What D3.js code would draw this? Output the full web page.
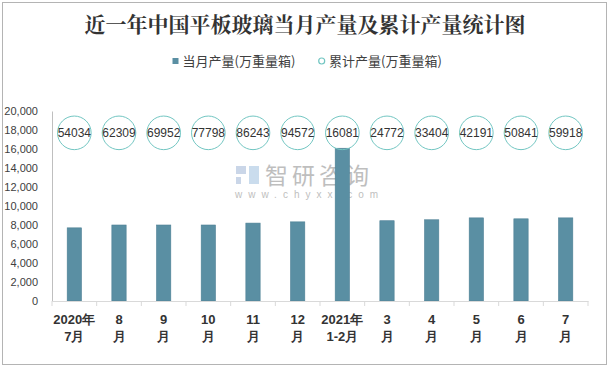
<!DOCTYPE html>
<html><head><meta charset="utf-8">
<script src="https://cdn.jsdelivr.net/npm/d3@7"></script>
<style>body{margin:0;background:#fff;}svg{display:block;font-family:"Liberation Sans",Arial,sans-serif;}</style>
</head><body><svg id="c" width="611" height="368"></svg>
<script>
const categoryLine1 = ["2020年","8","9","10","11","12","2021年","3","4","5","6","7"];
const categoryLine2 = ["7月","月","月","月","月","月","1-2月","月","月","月","月","月"];
const monthly = [7700,8000,8000,8000,8200,8330,16081,8450,8550,8750,8650,8750];
const cumulative = [54034,62309,69952,77798,86243,94572,16081,24772,33404,42191,50841,59918];
const markerLevel = 17700;
const yTicks = [0,2000,4000,6000,8000,10000,12000,14000,16000,18000,20000];
const title = "近一年中国平板玻璃当月产量及累计产量统计图";
const legendNames = ["当月产量(万重量箱)","累计产量(万重量箱)"];

const svg = d3.select("#c");
svg.append("rect").attr("x",2.5).attr("y",2.5).attr("width",604).attr("height",362)
  .attr("fill","#fff").attr("stroke","#b4b4b4");

const m = {l:52,r:588,t:111,b:301};
const x = d3.scaleBand().domain(d3.range(12)).range([m.l,m.r]).paddingInner(0.68).paddingOuter(0.34);
const xb = d3.scaleBand().domain(d3.range(12)).range([m.l,m.r]);
const y = d3.scaleLinear().domain([0,20000]).range([m.b,m.t]);

// title
svg.append("text").attr("x",305).attr("y",32).attr("text-anchor","middle")
  .attr("font-family","'Noto Serif CJK SC','Noto Sans CJK SC',serif").attr("font-weight","bold")
  .attr("font-size",21).attr("fill","#333").text(title);

// legend
svg.append("rect").attr("x",172.5).attr("y",58).attr("width",6).attr("height",6).attr("fill","#5a8fa3");
svg.append("text").attr("x",182.5).attr("y",65.5).attr("font-size",13).attr("fill","#404040")
  .attr("font-family","'Noto Sans CJK SC',sans-serif").text(legendNames[0]);
svg.append("circle").attr("cx",321.7).attr("cy",61).attr("r",3).attr("fill","none").attr("stroke","#72c6c2").attr("stroke-width",1.2);
svg.append("text").attr("x",329).attr("y",65.5).attr("font-size",13).attr("fill","#404040")
  .attr("font-family","'Noto Sans CJK SC',sans-serif").text(legendNames[1]);

// watermark (behind bars)
const wm = svg.append("g").attr("opacity",0.55);
wm.append("rect").attr("x",236).attr("y",166).attr("width",10).attr("height",8).attr("fill","#9fb6d6");
wm.append("rect").attr("x",236).attr("y",177).attr("width",5).attr("height",7).attr("fill","#9fb6d6");
wm.append("rect").attr("x",249).attr("y",166).attr("width",10).attr("height",18).attr("fill","#9fc0e0");
wm.append("text").attr("x",265).attr("y",184).attr("font-size",23).attr("fill","#8a8a8a")
  .attr("font-family","'Liberation Sans','Noto Sans CJK SC',sans-serif").attr("letter-spacing",4).text("智研咨询");
wm.append("text").attr("x",235).attr("y",198).attr("font-size",10).attr("fill","#8a8a8a")
  .attr("letter-spacing",6).text("www.chyxx.com");

// y axis
const ya = svg.append("g").attr("transform",`translate(${m.l},0)`)
  .call(d3.axisLeft(y).tickValues(yTicks).tickSize(0).tickPadding(14).tickFormat(d3.format(",")));
ya.select(".domain").attr("stroke","#bfbfbf");
ya.selectAll("text").attr("font-size",11).attr("fill","#404040").attr("font-family","'Liberation Sans',Arial,sans-serif");

// bars
svg.append("g").selectAll("rect").data(monthly).join("rect")
  .attr("x",(d,i)=>x(i)).attr("width",x.bandwidth())
  .attr("y",d=>y(d)).attr("height",d=>y(0)-y(d)).attr("fill","#5a8fa3")
  .attr("stroke","#4d7f94").attr("stroke-width",0.6);

// x axis
const xa = svg.append("g").attr("transform",`translate(0,${m.b})`)
  .call(d3.axisBottom(xb).tickSize(0).tickFormat(""));
xa.select(".domain").attr("stroke","#d9d9d9");
svg.append("g").selectAll("line").data(d3.range(13)).join("line")
  .attr("x1",i=>m.l+i*xb.step()).attr("x2",i=>m.l+i*xb.step())
  .attr("y1",m.b).attr("y2",m.b+5).attr("stroke","#d9d9d9");

const xl = svg.append("g").attr("font-size",13).attr("font-weight","bold").attr("fill","#333")
  .attr("text-anchor","middle");
xl.selectAll("text.l1").data(categoryLine1).join("text").attr("class","l1")
  .attr("x",(d,i)=>xb(i)+xb.bandwidth()/2).attr("y",324).text(d=>d);
xl.selectAll("text.l2").data(categoryLine2).join("text").attr("class","l2")
  .attr("x",(d,i)=>xb(i)+xb.bandwidth()/2).attr("y",341).text(d=>d);

// cumulative markers
const cg = svg.append("g");
cg.selectAll("circle").data(cumulative).join("circle")
  .attr("cx",(d,i)=>xb(i)+xb.bandwidth()/2).attr("cy",y(markerLevel)).attr("r",16.8)
  .attr("fill","none").attr("stroke","#72c6c2").attr("stroke-width",1);
cg.selectAll("text").data(cumulative).join("text")
  .attr("x",(d,i)=>xb(i)+xb.bandwidth()/2).attr("y",y(markerLevel)+4.5)
  .attr("text-anchor","middle").attr("font-size",12).attr("fill","#333").text(d=>d);
</script></body></html>
